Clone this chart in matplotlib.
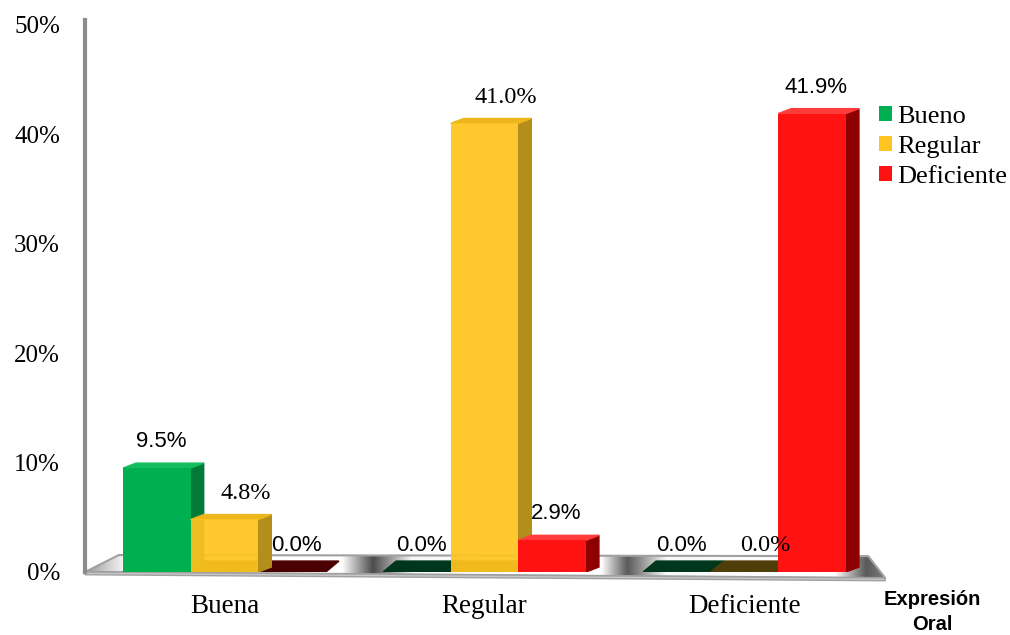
import numpy as np
import matplotlib.pyplot as plt
from matplotlib.patches import Polygon, Patch

# data (percent)
categories = ['Buena', 'Regular', 'Deficiente']
series = ['Bueno', 'Regular', 'Deficiente']
bueno = [9.5, 0.0, 0.0]
regular = [4.8, 41.0, 0.0]
deficiente = [0.0, 2.9, 41.9]
yticks = [0, 10, 20, 30, 40, 50]
values = [bueno, regular, deficiente]

# colours for the fake 3D look
front = ['#00B050', '#FFC41F', '#FF1212']
side = ['#007A38', '#B38E1A', '#8E0000']
top = ['#14BE5E', '#ECB61C', '#FF3C3C']
floor_mark = ['#00361B', '#4F3D0A', '#4A0000']
label_family = ['Liberation Sans', 'Liberation Serif', 'Liberation Sans']
label_size = [16, 17.5, 16]
label_dx = [0, 12, 0]  # serif labels sit a bit to the right in the original

fig = plt.figure(figsize=(10.1, 6.35), dpi=100)
ax = fig.add_axes([85 / 1010, 63 / 635, 795 / 1010, 552 / 635])

x = np.arange(len(categories))
w = 0.26
offs = [-w, 0, w]
dx, dy, dyf = 0.05, 0.45, 1.0
xmin, xmax = -0.5365, 2.521

# floor plate with a grey gradient
plate = Polygon([(xmin, 0), (xmax + 0.02, -0.55), (xmax - 0.045, 1.45), (xmin + 0.13, 1.55)],
                closed=True, facecolor='none', edgecolor='#A0A0A0', lw=1.5, zorder=2, clip_on=False)
ax.add_patch(plate)
gx = np.linspace(xmin, xmax + 0.03, 400)
gv = np.interp(gx, [xmin, xmin + 0.15, 0.45, 0.57, 0.72, 1.45, 1.55, 1.7, 2.35, 2.47, 2.55],
               [0.6, 0.97, 1.0, 0.3, 0.97, 1.0, 0.35, 0.97, 1.0, 0.35, 0.5])
img = ax.imshow(np.tile(gv, (2, 1)), cmap='gray', vmin=0, vmax=1, aspect='auto',
                extent=[xmin, xmax + 0.03, -0.6, 1.6], zorder=1)
img.set_clip_box(fig.bbox)
img.set_clip_path(plate)
band = Polygon([(xmin, 0), (xmax + 0.02, -0.55), (xmax + 0.02, -0.8), (xmin, -0.25)],
               closed=True, facecolor='#C8C8C8', edgecolor='#A0A0A0', lw=1, zorder=2, clip_on=False)
ax.add_patch(band)

for i, vals in enumerate(values):
    z = 4 + i
    for j, v in enumerate(vals):
        xc = x[j] + offs[i]
        x0, x1 = xc - w / 2, xc + w / 2
        ax.add_patch(Polygon([(x0, 0), (x1, 0), (x1 + dx, dyf), (x0 + dx, dyf)],
                             closed=True, color=floor_mark[i], zorder=3))
        if v > 0:
            ax.add_patch(Polygon([(x1, 0), (x1 + dx, dy), (x1 + dx, v + dy), (x1, v)],
                                 closed=True, color=side[i], zorder=z))
            ax.add_patch(Polygon([(x0, v), (x1, v), (x1 + dx, v + dy), (x0 + dx, v + dy)],
                                 closed=True, color=top[i], zorder=z))
            ax.bar(xc, v, w, color=front[i], zorder=z, alpha=0.93 if i == 1 else 1)
        ax.annotate(f'{v:.1f}%', (xc + dx / 3, v), xytext=(label_dx[i], 19), textcoords='offset points',
                    ha='center', va='center', fontsize=label_size[i], fontfamily=label_family[i],
                    color='#000000', zorder=10)

ax.set_xlim(xmin, xmax)
ax.set_ylim(0, 50.45)
for s in ['top', 'right', 'bottom']:
    ax.spines[s].set_visible(False)
ax.spines['left'].set_color('#8C8C8C')
ax.spines['left'].set_linewidth(3)
ax.set_yticks(yticks)
ax.set_yticklabels([f'{t}%' for t in yticks], family='Liberation Serif', fontsize=18)
ax.tick_params(axis='y', length=0, pad=18)
ax.set_xticks(x)
ax.set_xticklabels(categories, family='Liberation Serif', fontsize=19.5)
ax.tick_params(axis='x', length=0, pad=16)
ax.patch.set_visible(False)

fig.text(932 / 1010, 1 - 612 / 635, 'Expresión\nOral', ha='center', va='center',
         fontsize=14.5, fontweight='bold', family='Liberation Sans', linespacing=1.45)

handles = [Patch(facecolor=c, edgecolor='none') for c in front]
fig.legend(handles, series, loc='upper left', bbox_to_anchor=(879 / 1010, 1 - 106 / 635),
           frameon=False, prop={'family': 'Liberation Serif', 'size': 19},
           handlelength=0.5, handleheight=0.5, handletextpad=0.2, labelspacing=0.3,
           borderaxespad=0, borderpad=0)

fig.savefig('out.png', dpi=100)
